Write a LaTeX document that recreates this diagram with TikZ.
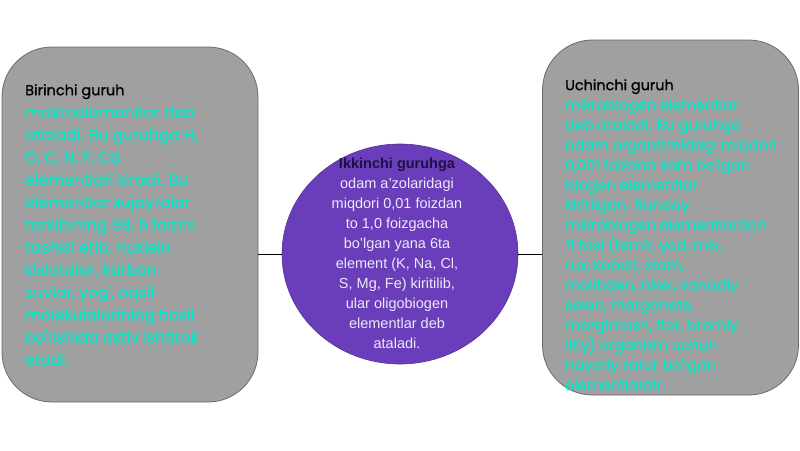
\documentclass[tikz,border=0pt]{standalone}
\usepackage{fontspec}
\setmainfont{Liberation Sans}
\newfontfamily\comicfont[FakeBold=0.9]{Poppins}
\usetikzlibrary{shapes.geometric}
\definecolor{boxgray}{HTML}{A0A0A0}
\definecolor{boxedge}{HTML}{6A6A6A}
\definecolor{ellpurple}{HTML}{6A3EBB}
\definecolor{cyantext}{HTML}{00E8C8}
\definecolor{lighttext}{HTML}{EEE8F6}
\definecolor{darkhead}{HTML}{1E1240}
\tikzset{
  groupbox/.style={draw=boxedge, line width=0.8pt, fill=boxgray, rounded corners=50pt,
    minimum width=256pt, minimum height=355pt, inner sep=0pt},
  midell/.style={ellipse, draw=ellpurple!80!black, line width=0.6pt, fill=ellpurple,
    minimum width=236pt, minimum height=220pt, inner sep=0pt},
  sidetext/.style={anchor=north west, align=left, inner sep=0pt, text=cyantext},
  linkline/.style={draw=black, line width=0.8pt}
}
\begin{document}
\begin{tikzpicture}[x=1pt, y=-1pt]
\useasboundingbox (0,0) rectangle (800,450);
\fill[white] (0,0) rectangle (800,450);
\node[groupbox] (boxL) at (130,224.5) {};
\node[groupbox] (boxR) at (670.5,217.5) {};
\node[midell] (ell) at (400,254) {};
\draw[linkline] (ell.west -| boxL.east) -- (ell.west);
\draw[linkline] (ell.east) -- (ell.east -| boxR.west);
\node[sidetext, font={\comicfont\fontsize{15.5}{22.5}\selectfont}] (txtL) at (25,84)
{\textcolor{black}{\fontsize{14.5}{22.5}\selectfont Birinchi guruh}\\
makroelementlar deb\\
ataladi. Bu guruhga H,\\
O, C, N, P, Ca\\
elementlari kiradi. Bu\\
elementlar xujayralar\\
tarkibining 98, 5 foizini\\
tashkil etib, nuklein\\
kislotalar, karbon\\
suvlar, yog', oqsil\\
molekulalarining hosil\\
bo'lishida aktiv ishtirok\\
etadi.};
\node[sidetext, font={\comicfont\fontsize{14.4}{20}\selectfont}] (txtR) at (565,79)
{\textcolor{black}{Uchinchi guruh}\\
mikrobiogen elementlar\\
deb ataladi. Bu guruhga\\
odam organizmidagi miqdori\\
0,001 foizdan kam bo'lgan\\
biogen elementlar\\
kiritilgan. Bunday\\
mikrobiogen elementlardan\\
11 tasi (temir, yod, mis,\\
rux, kobalt, xrom,\\
molibden, nikel, vanadiy\\
selen, marganets,\\
margimush, ftor, bromiy\\
litiy) organizm uchun\\
hayotiy zarur bo'lgan\\
elementlardir.};
\node[align=center, inner sep=0pt, text=lighttext, font={\fontsize{14.5}{20}\selectfont}] (txtM) at (397,253)
{\textcolor{darkhead}{\bfseries Ikkinchi guruhga}\\
odam a'zolaridagi\\
miqdori 0,01 foizdan\\
to 1,0 foizgacha\\
bo'lgan yana 6ta\\
element (K, Na, Cl,\\
S, Mg, Fe) kiritilib,\\
ular oligobiogen\\
elementlar deb\\
ataladi.};
\end{tikzpicture}
\end{document}
